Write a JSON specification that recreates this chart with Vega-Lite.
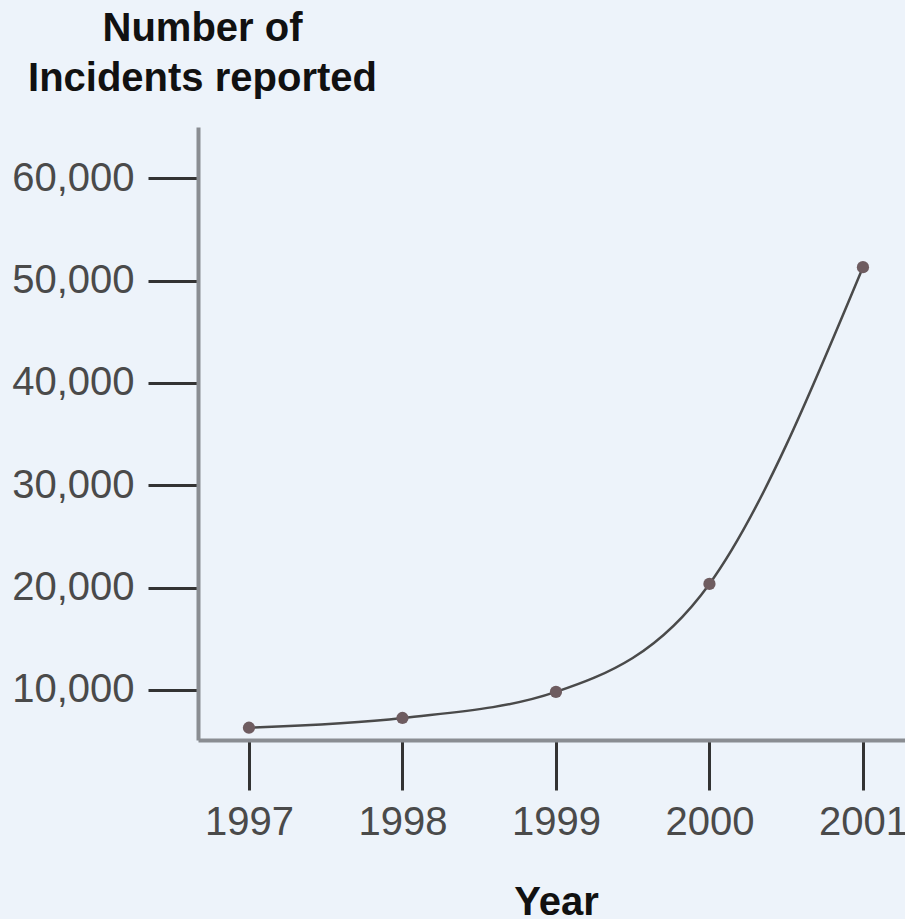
{
  "$schema": "https://vega.github.io/schema/vega-lite/v6.json",
  "autosize": "none",
  "width": 707,
  "height": 613,
  "padding": {"left": 198, "top": 127, "right": 0, "bottom": 179},
  "background": "#edf3fa",
  "config": {
    "view": {"stroke": null},
    "font": "Liberation Sans"
  },
  "data": {
    "values": [
      {"year": 1997, "incidents": 6300},
      {"year": 1998, "incidents": 7250},
      {"year": 1999, "incidents": 9800},
      {"year": 2000, "incidents": 20350},
      {"year": 2001, "incidents": 51300}
    ]
  },
  "encoding": {
    "x": {
      "field": "year",
      "type": "quantitative",
      "scale": {"domain": [1996.668, 2001.274], "nice": false, "zero": false},
      "axis": {
        "values": [1997, 1998, 1999, 2000, 2001],
        "format": "d",
        "grid": false,
        "domainColor": "#8a8d92",
        "domainWidth": 4,
        "tickColor": "#333333",
        "tickWidth": 3,
        "tickSize": 50,
        "labelPadding": 12,
        "labelFont": "Liberation Sans",
        "labelFontSize": 40,
        "labelColor": "#4a4a4a",
        "labelFlush": false,
        "labelOverlap": false,
        "title": "Year",
        "titleFont": "Liberation Sans",
        "titleFontSize": 40,
        "titleFontWeight": "bold",
        "titleColor": "#111111",
        "titleX": 358,
        "titleY": 174,
        "titleBaseline": "alphabetic",
        "titleAlign": "center"
      }
    },
    "y": {
      "field": "incidents",
      "type": "quantitative",
      "scale": {"domain": [5100, 65000], "nice": false, "zero": false},
      "axis": {
        "values": [10000, 20000, 30000, 40000, 50000, 60000],
        "format": ",.0f",
        "grid": false,
        "domainColor": "#8a8d92",
        "domainWidth": 4,
        "tickColor": "#333333",
        "tickWidth": 3,
        "tickSize": 50,
        "labelPadding": 14,
        "labelFont": "Liberation Sans",
        "labelFontSize": 40,
        "labelColor": "#4a4a4a",
        "labelFlush": false,
        "labelOverlap": false,
        "title": ["Number of", "Incidents reported"],
        "titleFont": "Liberation Sans",
        "titleFontSize": 40,
        "titleFontWeight": "bold",
        "titleColor": "#111111",
        "titleLineHeight": 50,
        "titleAngle": 0,
        "titleAlign": "center",
        "titleBaseline": "alphabetic",
        "titleX": 4,
        "titleY": -87
      }
    }
  },
  "layer": [
    {
      "mark": {"type": "line", "interpolate": "monotone", "color": "#4a4a4a", "strokeWidth": 2.5}
    },
    {
      "mark": {"type": "point", "filled": true, "color": "#6e5c60", "size": 150, "opacity": 1}
    }
  ]
}
